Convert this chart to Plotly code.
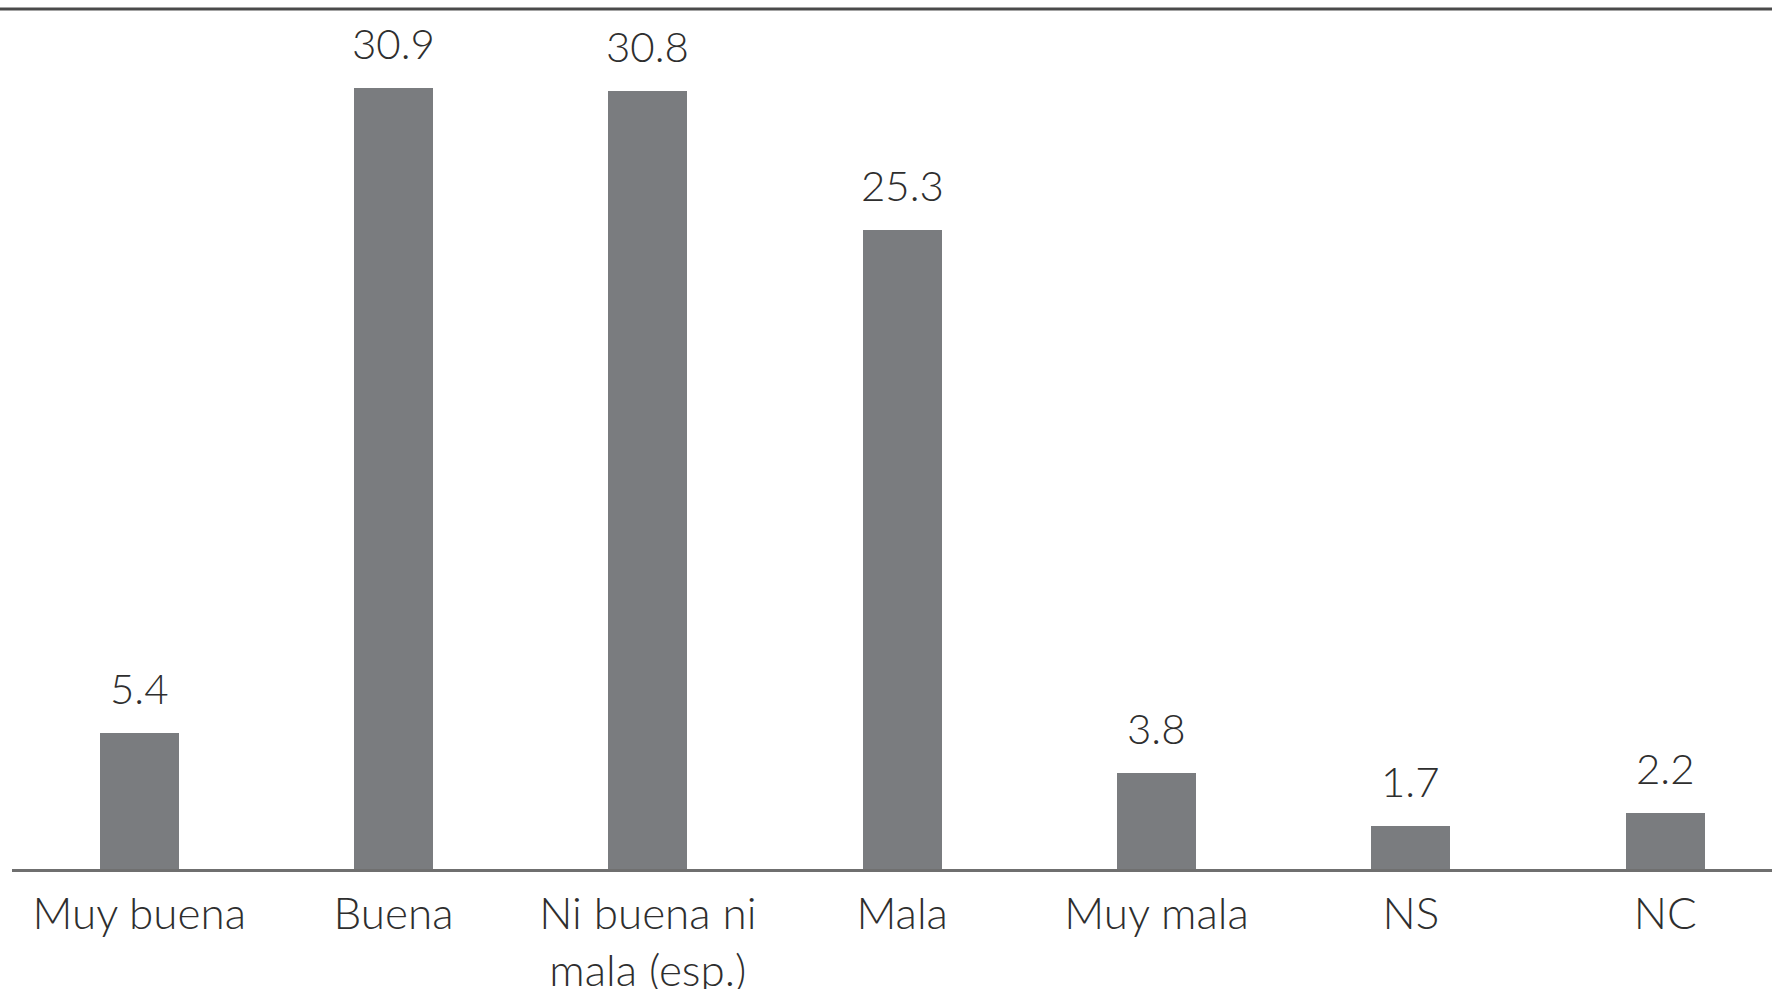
import plotly.graph_objects as go

# Opinion categories and percentages
categorias = ["Muy buena", "Buena", "Ni buena ni<br>mala (esp.)", "Mala", "Muy mala", "NS", "NC"]
porcentajes = [5.4, 30.9, 30.8, 25.3, 3.8, 1.7, 2.2]

BAR_COLOR = "#7a7c7f"
TEXT_COLOR = "#2e2e2e"
FONT = "Lato, 'Open Sans', sans-serif"

W, H = 1772, 989
ML, MR, MT, MB = 12, 0, 9, 120
plot_w = W - ML - MR

x_idx = list(range(len(categorias)))

fig = go.Figure(
    go.Bar(
        x=x_idx,
        y=porcentajes,
        width=0.31,
        marker=dict(color=BAR_COLOR, line=dict(width=0)),
        hoverinfo="skip",
    )
)

# Value labels above each bar
for i, v in zip(x_idx, porcentajes):
    fig.add_annotation(
        x=i, y=v, text=f"{v:.1f}", showarrow=False,
        yanchor="bottom", yshift=18,
        font=dict(family=FONT, size=42, color=TEXT_COLOR, weight=300),
    )

# Dark rule along the top edge
fig.add_shape(
    type="line", xref="paper", yref="paper",
    x0=-ML / plot_w, x1=1, y0=1, y1=1,
    line=dict(color="#4a4a4a", width=3),
)

fig.update_layout(
    width=W, height=H,
    margin=dict(l=ML, r=MR, t=MT, b=MB, autoexpand=False),
    paper_bgcolor="white", plot_bgcolor="white",
    showlegend=False,
    bargap=0,
    xaxis=dict(
        range=[-0.5, 6.42],
        tickmode="array", tickvals=x_idx, ticktext=categorias,
        showgrid=False, zeroline=False,
        showline=True, linecolor="#6f6f6f", linewidth=3,
        ticks="", ticklabelstandoff=4,
        tickfont=dict(family=FONT, size=44, color=TEXT_COLOR, weight=300),
        fixedrange=True,
    ),
    yaxis=dict(
        range=[0, 34.03], visible=False, fixedrange=True,
    ),
)

fig.write_html("out.html")
